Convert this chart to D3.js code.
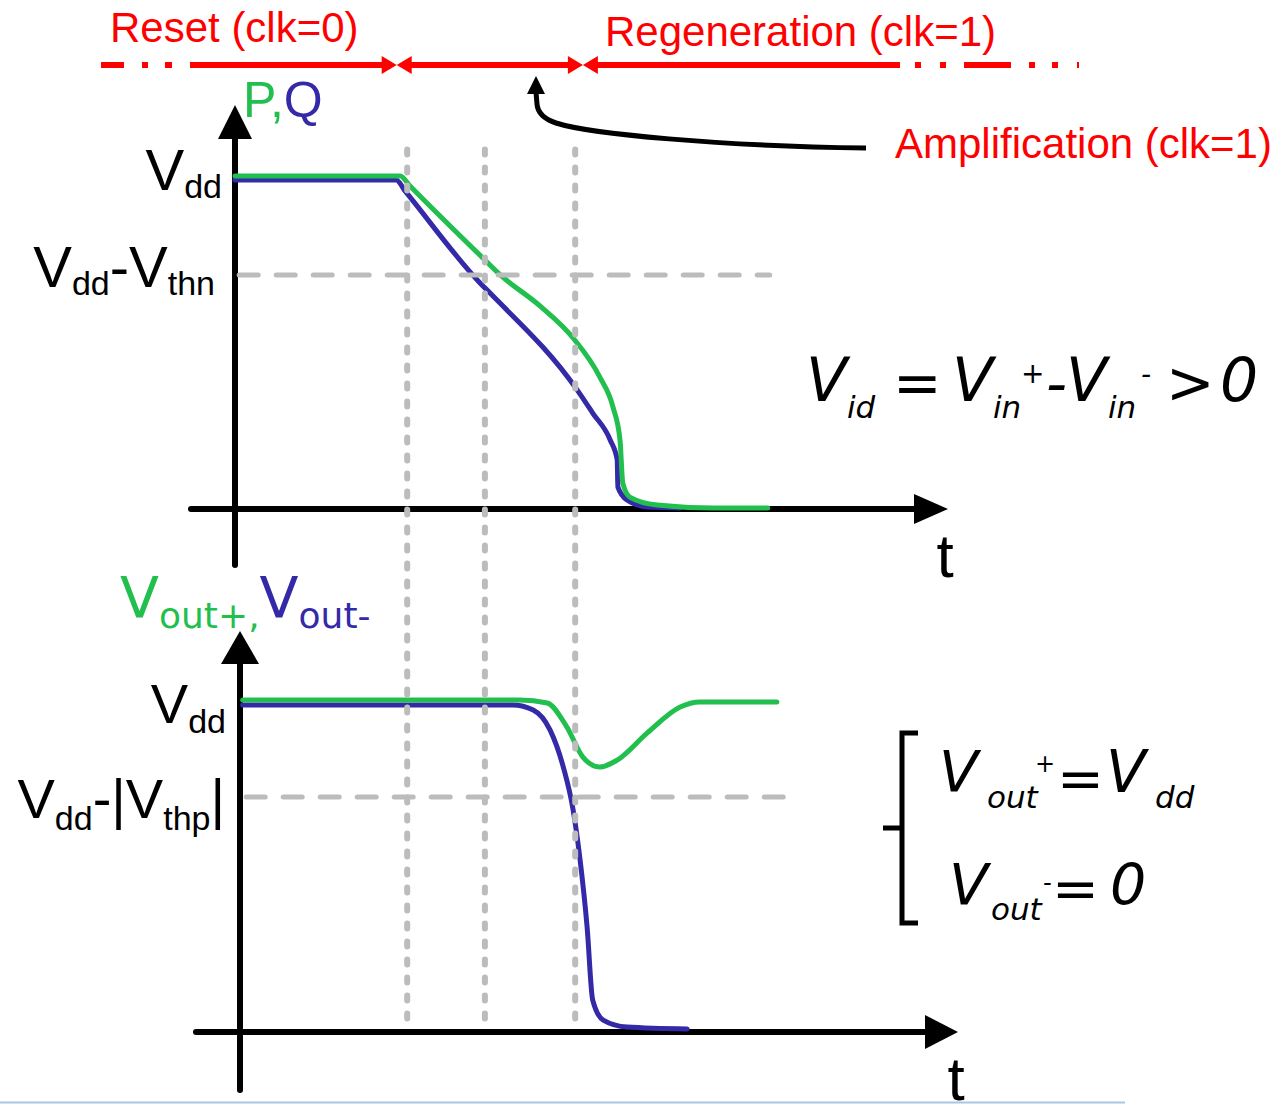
<!DOCTYPE html>
<html><head><meta charset="utf-8">
<script src="https://cdn.jsdelivr.net/npm/d3@7"></script>
<style>html,body{margin:0;padding:0;background:#fff}svg{display:block}</style>
</head><body>
<svg id="c" width="1286" height="1104"></svg>
<script>
// ---------------- data (time in arbitrary units, voltage normalised to Vdd = 1) ----------------
// Top panel: internal nodes P (green) and Q (blue)
const pT = [0, 23.6, 25.0, 35.7, 37.9, 43.6, 48.3, 52.1, 54.0, 55.0, 55.4, 56.4, 60.3, 68.3, 76.1];
const pV = [1.0, 1.0, 0.970, 0.747, 0.702, 0.608, 0.512, 0.395, 0.304, 0.205, 0.075, 0.033, 0.009, 0.0, 0.0];
const qT = [0, 23.0, 24.4, 35.0, 36.4, 48.9, 51.1, 53.6, 54.6, 54.7, 56.0, 58.9, 63.6];
const qV = [0.988, 0.988, 0.952, 0.678, 0.648, 0.355, 0.286, 0.205, 0.145, 0.063, 0.024, 0.003, 0.0];
// Bottom panel: outputs Vout+ (green) and Vout- (blue)
const vpT = [1.1, 40.7, 44.6, 47.4, 49.7, 52.1, 54.6, 58.9, 63.6, 66.4, 77.4];
const vpV = [1.0, 1.0, 0.991, 0.919, 0.828, 0.798, 0.819, 0.901, 0.979, 0.994, 0.994];
const vmT = [1.1, 39.7, 42.6, 45.0, 46.9, 48.3, 49.3, 50.3, 51.1, 52.6, 56.0, 64.6];
const vmV = [0.985, 0.985, 0.970, 0.910, 0.798, 0.669, 0.518, 0.316, 0.096, 0.036, 0.015, 0.009];
// Reference levels
const vthnLevel = 0.702;   // Vdd - Vthn
const vthpLevel = 0.708;   // Vdd - |Vthp|
// Phase marker times (dotted verticals) and clock-phase boundaries on the timeline
const markerTimes = [24.6, 35.7, 48.6];
const phaseBounds = [23.1, 49.7];
const phaseLabels = ["Reset (clk=0)", "Regeneration (clk=1)", "Amplification (clk=1)"];
const amplifyPointer = 43.0;

// ---------------- setup ----------------
const GREEN = "#22bf4f", BLUE = "#3429a6", GRAY = "#bcbcbc", RED = "#ff0000";
const SANS = "'Liberation Sans', Arial, sans-serif";
const DEJAVU = "'DejaVu Sans', sans-serif";

const svg = d3.select("#c");
const x = d3.scaleLinear().domain([0, 100]).range([235, 935]);
const yTop = d3.scaleLinear().domain([0, 1]).range([508, 176]);
const yBot = d3.scaleLinear().domain([0, 1]).range([1032, 700]);

// light page-edge line at the very bottom
svg.append("line").attr("x1", 0).attr("x2", 1125).attr("y1", 1102.5).attr("y2", 1102.5)
  .attr("stroke", "#a9c6e3").attr("stroke-width", 2);

// ---------------- axes ----------------
function axes(ax, ayBottom, tipY, headW, headL, hy, hx0, tipX) {
  const g = svg.append("g");
  g.append("line").attr("x1", ax).attr("x2", ax).attr("y1", ayBottom).attr("y2", tipY + headL - 2)
    .attr("stroke", "#000").attr("stroke-width", 6).attr("stroke-linecap", "round");
  g.append("path").attr("d", `M${ax},${tipY} L${ax - headW},${tipY + headL} L${ax + headW},${tipY + headL} Z`).attr("fill", "#000");
  g.append("line").attr("x1", hx0).attr("x2", tipX - headL + 2).attr("y1", hy).attr("y2", hy)
    .attr("stroke", "#000").attr("stroke-width", 6).attr("stroke-linecap", "round");
  g.append("path").attr("d", `M${tipX},${hy} L${tipX - headL},${hy - headW + 2} L${tipX - headL},${hy + headW - 2} Z`).attr("fill", "#000");
}
axes(x(0), 565, 105, 17, 34, yTop(0) + 1, 191, 948);
axes(x(0) + 5, 1090, 631, 19, 33, yBot(0), 196, 958);

// ---------------- curves ----------------
function curve(T, V, ys, color) {
  const line = d3.line().x(d => x(d[0])).y(d => ys(d[1])).curve(d3.curveMonotoneX);
  svg.append("path").datum(d3.zip(T, V)).attr("d", line)
    .attr("fill", "none").attr("stroke", color).attr("stroke-width", 5)
    .attr("stroke-linecap", "round").attr("stroke-linejoin", "round");
}
curve(qT, qV, yTop, BLUE);
curve(pT, pV, yTop, GREEN);
curve(vmT, vmV, yBot, BLUE);
curve(vpT, vpV, yBot, GREEN);

// ---------------- guide lines ----------------
svg.append("line").attr("x1", x(0.6)).attr("x2", x(76.4))
  .attr("y1", yTop(vthnLevel)).attr("y2", yTop(vthnLevel))
  .attr("stroke", GRAY).attr("stroke-width", 5).attr("stroke-dasharray", "19 18").attr("stroke-linecap", "round");
svg.append("line").attr("x1", x(1.6)).attr("x2", x(78.6))
  .attr("y1", yBot(vthpLevel)).attr("y2", yBot(vthpLevel))
  .attr("stroke", GRAY).attr("stroke-width", 5).attr("stroke-dasharray", "19 18").attr("stroke-linecap", "round");
svg.selectAll("line.marker").data(markerTimes).join("line").attr("class", "marker")
  .attr("x1", d => x(d)).attr("x2", d => x(d))
  .attr("y1", yTop(1.08)).attr("y2", yBot(0) - 2)
  .attr("stroke", GRAY).attr("stroke-width", 6).attr("stroke-dasharray", "5 13").attr("stroke-linecap", "round");

// ---------------- timeline (top, red) ----------------
const tlY = 65, aL = 15, aH = 9;
const b1 = x(phaseBounds[0]), b2 = x(phaseBounds[1]);
const tl = svg.append("g").attr("stroke", RED).attr("stroke-width", 6).attr("fill", "none");
tl.append("line").attr("x1", 101).attr("x2", 190).attr("y1", tlY).attr("y2", tlY).attr("stroke-dasharray", "23,18,6,17,7,18");
tl.append("line").attr("x1", 190).attr("x2", b1 - aL + 1).attr("y1", tlY).attr("y2", tlY);
tl.append("line").attr("x1", b1 + aL - 1).attr("x2", b2 - aL + 1).attr("y1", tlY).attr("y2", tlY);
tl.append("line").attr("x1", b2 + aL - 1).attr("x2", 900).attr("y1", tlY).attr("y2", tlY);
tl.append("line").attr("x1", 915).attr("x2", 1080).attr("y1", tlY).attr("y2", tlY).attr("stroke-dasharray", "6,19,6,18,47,18,6,17,6,19,2,100");
[b1, b2].forEach(b => {
  svg.append("path").attr("d", `M${b},${tlY} L${b - aL},${tlY - aH} L${b - aL},${tlY + aH} Z`).attr("fill", RED);
  svg.append("path").attr("d", `M${b},${tlY} L${b + aL},${tlY - aH} L${b + aL},${tlY + aH} Z`).attr("fill", RED);
});
svg.append("text").attr("x", 110).attr("y", 42).attr("font-family", SANS).attr("font-size", 42).attr("fill", RED).text(phaseLabels[0]);
svg.append("text").attr("x", 605).attr("y", 46).attr("font-family", SANS).attr("font-size", 42).attr("fill", RED).text(phaseLabels[1]);
svg.append("text").attr("x", 895).attr("y", 158).attr("font-family", SANS).attr("font-size", 42).attr("fill", RED).text(phaseLabels[2]);

// black pointer arrow to amplification phase
const px = x(amplifyPointer);
svg.append("path").attr("d", `M866,148 C720,146 590,134 556,123 Q${px + 2},117 ${px + 1},104 L${px},92`)
  .attr("fill", "none").attr("stroke", "#000").attr("stroke-width", 5);
svg.append("path").attr("d", `M${px},76 L${px - 9},94 L${px + 9},94 Z`).attr("fill", "#000");

// ---------------- rich text helper ----------------
function rich(xp, yp, parts, anchor, family) {
  const t = svg.append("text").attr("x", xp).attr("y", yp).attr("text-anchor", anchor || "start")
    .attr("font-family", family || SANS);
  let prev = 0;
  parts.forEach(p => {
    const off = p.dy || 0;
    t.append("tspan").attr("dy", off - prev).attr("font-size", p.size)
      .attr("fill", p.fill || "#000").text(p.s);
    prev = off;
  });
  return t;
}

// axis titles
rich(243, 117, [{s: "P", size: 50, fill: GREEN}, {s: ",", size: 50, fill: GREEN}, {s: "Q", size: 50, fill: BLUE}]);
rich(120, 618, [{s: "V", size: 57, fill: GREEN}, {s: "out+", size: 36, fill: GREEN, dy: 10},
                {s: ",", size: 36, fill: GREEN, dy: 10},
                {s: "V", size: 57, fill: BLUE}, {s: "out-", size: 36, fill: BLUE, dy: 10}], "start", DEJAVU);

// level labels
rich(222, 190, [{s: "V", size: 58}, {s: "dd", size: 34, dy: 8}], "end");
rich(215, 287, [{s: "V", size: 58}, {s: "dd", size: 34, dy: 8}, {s: "-", size: 58}, {s: "V", size: 58}, {s: "thn", size: 34, dy: 8}], "end");
rich(226, 723, [{s: "V", size: 56}, {s: "dd", size: 34, dy: 10}], "end");
rich(225, 818, [{s: "V", size: 56}, {s: "dd", size: 34, dy: 12}, {s: "-", size: 56}, {s: "|", size: 56},
                {s: "V", size: 56}, {s: "thp", size: 34, dy: 12}, {s: "|", size: 56}], "end");

// time labels
svg.append("text").attr("x", 945).attr("y", 577).attr("text-anchor", "middle").attr("font-family", SANS).attr("font-size", 62).text("t");
svg.append("text").attr("x", 956).attr("y", 1100).attr("text-anchor", "middle").attr("font-family", SANS).attr("font-size", 62).text("t");

// ---------------- equations ----------------
function piece(s, xp, yp, size) {
  svg.append("text").attr("x", xp).attr("y", yp).attr("font-family", DEJAVU).attr("font-style", "italic")
    .attr("font-size", size).attr("fill", "#000").text(s);
}
// V_id = V_in^+ - V_in^- > 0
piece("V", 806, 401, 60);
piece("id", 847, 418, 31);
piece("=", 893, 403, 58);
piece("V", 952, 401, 60);
piece("in", 993, 418, 31);
piece("+", 1021, 383, 28);
piece("-", 1046, 404, 58);
piece("V", 1066, 401, 60);
piece("in", 1108, 418, 31);
piece("-", 1141, 384, 28);
piece(">", 1166, 403, 58);
piece("0", 1220, 401, 60);

// bracket
svg.append("path").attr("d", "M918,733 L902,733 L902,923 L918,923 M883,828 L902,828")
  .attr("fill", "none").attr("stroke", "#000").attr("stroke-width", 5);
// V_out^+ = V_dd
piece("V", 939, 792, 57);
piece("out", 987, 808, 31);
piece("+", 1035, 772, 24);
piece("=", 1057, 798, 56);
piece("V", 1106, 792, 58);
piece("dd", 1155, 808, 31);
// V_out^- = 0
piece("V", 949, 905, 57);
piece("out", 991, 920, 31);
piece("-", 1043, 891, 24);
piece("=", 1052, 908, 56);
piece("0", 1110, 905, 57);
</script>
</body></html>
